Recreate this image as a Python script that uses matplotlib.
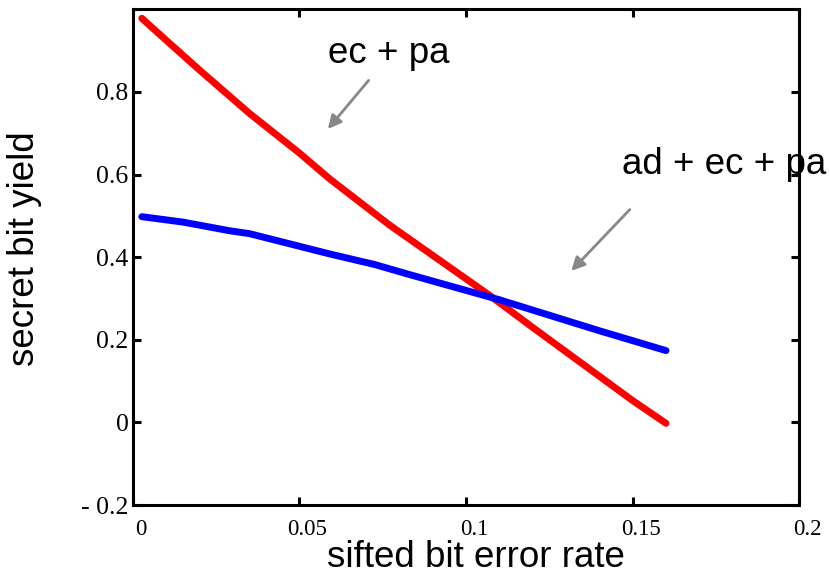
import numpy as np
import matplotlib.pyplot as plt
import matplotlib.transforms as mtransforms

# secret bit yield vs sifted bit error rate
ec_pa_x = [0.0027, 0.010, 0.020, 0.035, 0.050, 0.059, 0.077, 0.095, 0.107, 0.120, 0.150, 0.160]
ec_pa_y = [0.978, 0.925, 0.853, 0.748, 0.652, 0.590, 0.478, 0.376, 0.308, 0.230, 0.053, -0.002]

ad_ec_pa_x = [0.0027, 0.015, 0.029, 0.035, 0.059, 0.0727, 0.083, 0.110, 0.140, 0.160]
ad_ec_pa_y = [0.498, 0.485, 0.464, 0.457, 0.408, 0.382, 0.358, 0.297, 0.222, 0.174]

xticks = [0, 0.05, 0.1, 0.15, 0.2]
xtick_labels = ["0", "0.05", "0.1", "0.15", "0.2"]
yticks = [-0.2, 0, 0.2, 0.4, 0.6, 0.8]
ytick_labels = ["- 0.2", "0", "0.2", "0.4", "0.6", "0.8"]

fig = plt.figure(figsize=(8.3, 5.76), dpi=100)
ax = fig.add_axes([0.160, 0.123, 0.803, 0.861])

ax.plot(ec_pa_x, ec_pa_y, color="#ff0000", lw=5, solid_capstyle="round")
ax.plot(ad_ec_pa_x, ad_ec_pa_y, color="#0000ff", lw=5, solid_capstyle="round")

ax.set_xlim(0, 0.2)
ax.set_ylim(-0.2, 1.0)
ax.set_xticks(xticks)
ax.set_xticklabels(xtick_labels, family="Liberation Serif", fontsize=16.5)
ax.set_yticks(yticks)
ax.set_yticklabels(ytick_labels, family="Liberation Serif", fontsize=18.5)
ax.tick_params(direction="in", length=6, width=2.2, top=True, right=True)
ax.tick_params(axis="x", pad=10)
ax.tick_params(axis="y", pad=3)

# x tick labels sit a little right of their ticks
offset = mtransforms.ScaledTranslation(8 / 100, 0, fig.dpi_scale_trans)
for lab in ax.get_xticklabels():
    lab.set_transform(lab.get_transform() + offset)

for s in ax.spines.values():
    s.set_linewidth(2.2)

fig.text(0.574, 0.001, "sifted bit error rate", family="Liberation Sans", fontsize=26.5,
         ha="center", va="bottom")
fig.text(0.030, 0.569, "secret bit yield", family="Liberation Sans", fontsize=26.5,
         ha="center", va="center", rotation=90)

arrow = dict(arrowstyle="-|>,head_length=0.8,head_width=0.4", color="#888888", lw=2)
ax.annotate("", xy=(0.0580, 0.705), xytext=(0.0713, 0.833), arrowprops=arrow)
ax.annotate("", xy=(0.1310, 0.362), xytext=(0.1497, 0.520), arrowprops=arrow)

ax.text(0.0585, 0.893, "ec + pa", family="Liberation Sans", fontsize=26.5, ha="left", va="center")
ax.text(0.1468, 0.625, "ad + ec + pa", family="Liberation Sans", fontsize=26.5,
        ha="left", va="center", clip_on=False)

fig.savefig("out.png", dpi=100)
